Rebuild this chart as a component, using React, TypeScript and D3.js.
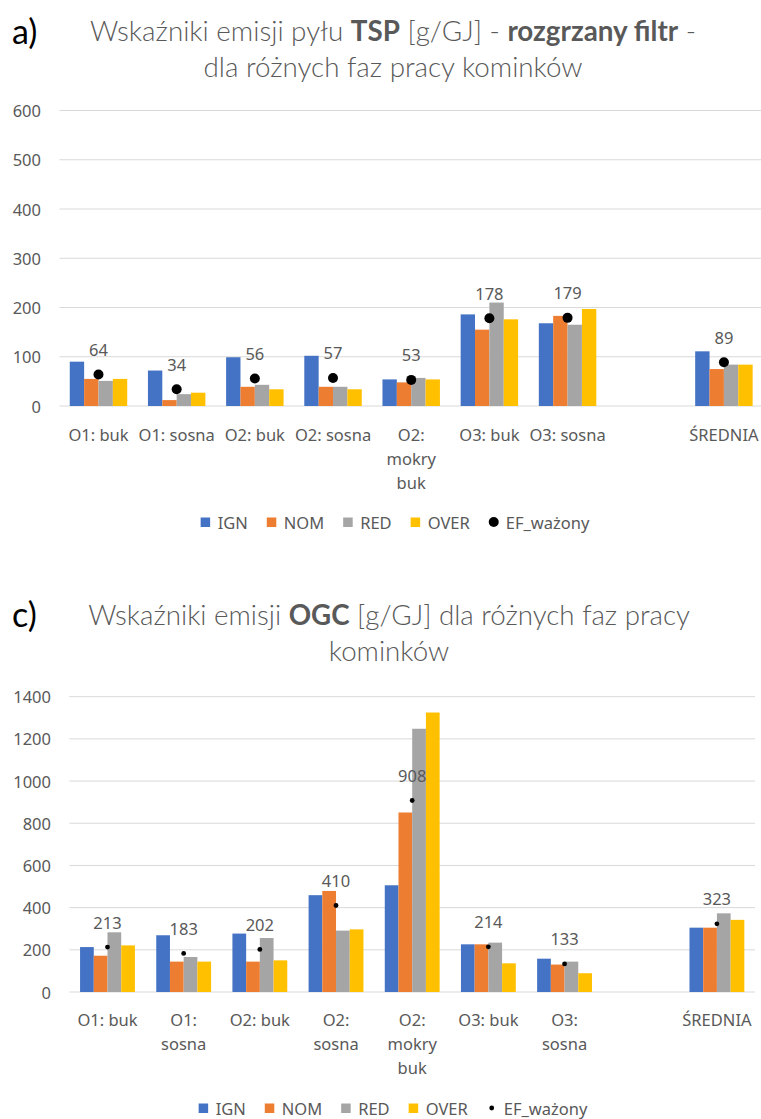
import * as d3 from "d3";

const series = ["IGN", "NOM", "RED", "OVER"];
const colors = ["#4472C4", "#ED7D31", "#A5A5A5", "#FFC000"];
const efName = "EF_ważony";

// chart a) TSP
const titleA1 = [["Wskaźniki emisji pyłu ", false], ["TSP", true], [" [g/GJ] - ", false], ["rozgrzany filtr", true], [" -", false]] as [string, boolean][];
const titleA2 = [["dla różnych faz pracy kominków", false]] as [string, boolean][];
const labelsA = [["O1: buk"], ["O1: sosna"], ["O2: buk"], ["O2: sosna"], ["O2:", "mokry", "buk"], ["O3: buk"], ["O3: sosna"], [""], ["ŚREDNIA"]];
const ignA = [90, 72, 99, 102, 54, 186, 168, null, 111];
const nomA = [55, 12, 39, 39, 48, 155, 183, null, 75];
const redA = [51, 24, 43, 39, 57, 210, 165, null, 84];
const overA = [55, 27, 34, 34, 54, 176, 197, null, 84];
const efA = [64, 34, 56, 57, 53, 178, 179, null, 89];
const ticksA = [0, 100, 200, 300, 400, 500, 600];

// chart c) OGC
const titleC1 = [["Wskaźniki emisji ", false], ["OGC", true], [" [g/GJ] dla różnych faz pracy", false]] as [string, boolean][];
const titleC2 = [["kominków", false]] as [string, boolean][];
const labelsC = [["O1: buk"], ["O1:", "sosna"], ["O2: buk"], ["O2:", "sosna"], ["O2:", "mokry", "buk"], ["O3: buk"], ["O3:", "sosna"], [""], ["ŚREDNIA"]];
const ignC = [213, 269, 277, 459, 506, 226, 158, null, 305];
const nomC = [172, 144, 144, 479, 851, 226, 130, null, 305];
const redC = [283, 166, 256, 291, 1248, 234, 144, null, 373];
const overC = [221, 144, 150, 297, 1325, 136, 89, null, 342];
const efC = [213, 183, 202, 410, 908, 214, 133, null, 323];
const ticksC = [0, 200, 400, 600, 800, 1000, 1200, 1400];

const FONT = "'Noto Sans', 'Open Sans', sans-serif";
const TITLE_FONT = "Lato";
const GREY = "#595959";
const FS = 16.5;

let ctx: CanvasRenderingContext2D | null = null;
function measure(s: string, font: string) {
  if (!ctx) ctx = document.createElement("canvas").getContext("2d");
  ctx!.font = font;
  return ctx!.measureText(s).width;
}
const textWidth = (s: string) => measure(s, `${FS}px 'Noto Sans'`);
const segWidth = (segs: [string, boolean][], size: number) =>
  d3.sum(segs, ([t, b]) => measure(t, `${b ? 700 : 300} ${size}px ${TITLE_FONT}`));

function Title({ lines, target, cx, ys }: { lines: [string, boolean][][]; target: number; cx: number; ys: number[] }) {
  const size = 30 * target / segWidth(lines[0], 30);
  return (
    <g fontFamily={TITLE_FONT} fontSize={size} fill={GREY} textAnchor="middle">
      {lines.map((segs, k) => (
        <text key={k} x={cx} y={ys[k]} dominantBaseline="central" fontWeight={300}>
          {segs.map(([t, b], j) => <tspan key={j} fontWeight={b ? 700 : 300}>{t}</tspan>)}
        </text>
      ))}
    </g>
  );
}

type Cfg = {
  labels: string[][];
  values: (number | null)[][];
  ef: (number | null)[];
  ticks: number[];
  y0: number; y1: number;
  xL: number; xR: number;
  yLabelRight: number;
  dotR: number;
  barFrac: number;
  xLabelY: number;
  legendY: number;
  legendCx: number;
};

function BarChart({ c }: { c: Cfg }) {
  const idx = c.labels.map((_, i) => i);
  const x0 = d3.scaleBand<number>().domain(idx).range([c.xL, c.xR]);
  const step = x0.step();
  const gw = step * c.barFrac;
  const x1 = d3.scaleBand<number>().domain(series.map((_, i) => i)).range([(step - gw) / 2, (step + gw) / 2]);
  const y = d3.scaleLinear().domain([0, d3.max(c.ticks)!]).range([c.y0, c.y1]);
  const cx = (i: number) => x0(i)! + step / 2;

  // legend layout
  const items = [...series, efName];
  const widths = items.map(textWidth);
  const total = d3.sum(widths) + items.length * 17 + (items.length - 1) * 19;
  let lx = c.legendCx - total / 2;
  const legend = items.map((name, i) => {
    const pos = lx;
    lx += 17 + widths[i] + 19;
    return { name, i, pos };
  });

  return (
    <g fontFamily={FONT} fontSize={FS} fill={GREY}>
      {c.ticks.map(t => (
        <g key={t}>
          <line x1={c.xL} x2={Math.min(c.xR, 761)} y1={y(t)} y2={y(t)} stroke="#d9d9d9" strokeWidth={1} />
          <text x={c.yLabelRight} y={y(t)} textAnchor="end" dominantBaseline="central">{t}</text>
        </g>
      ))}
      {c.values.map((vals, s) => (
        <g key={s} fill={colors[s]}>
          {vals.map((v, i) => v == null ? null : (
            <rect key={i} x={x0(i)! + x1(s)!} width={x1.bandwidth()} y={y(v)} height={y(0) - y(v)} />
          ))}
        </g>
      ))}
      {c.ef.map((v, i) => v == null ? null : (
        <g key={i}>
          <circle cx={cx(i)} cy={y(v)} r={c.dotR} fill="#000" />
          <text x={cx(i)} y={y(v) - 25} textAnchor="middle" dominantBaseline="central">{v}</text>
        </g>
      ))}
      {c.labels.map((lines, i) => (
        <text key={i} x={cx(i)} y={c.xLabelY} textAnchor="middle" dominantBaseline="central">
          {lines.map((l, k) => (
            <tspan key={k} x={cx(i)} dy={k === 0 ? 0 : 24}>{l}</tspan>
          ))}
        </text>
      ))}
      {legend.map(({ name, i, pos }) => (
        <g key={name}>
          {i < series.length
            ? <rect x={pos} y={c.legendY - 4.5} width={9.5} height={9.5} fill={colors[i]} />
            : <circle cx={pos + 5} cy={c.legendY} r={c.dotR} fill="#000" />}
          <text x={pos + 17} y={c.legendY} dominantBaseline="central">{name}</text>
        </g>
      ))}
    </g>
  );
}

const cfgA: Cfg = {
  labels: labelsA, values: [ignA, nomA, redA, overA], ef: efA, ticks: ticksA,
  y0: 406, y1: 110.5, xL: 59.4, xR: 763, yLabelRight: 41, dotR: 5, barFrac: 0.735,
  xLabelY: 434, legendY: 522, legendCx: 395,
};
const cfgC: Cfg = {
  labels: labelsC, values: [ignC, nomC, redC, overC], ef: efC, ticks: ticksC,
  y0: 992, y1: 696.7, xL: 69.4, xR: 755, yLabelRight: 51, dotR: 2.4, barFrac: 0.72,
  xLabelY: 1019, legendY: 1108, legendCx: 393,
};

export default function App() {
  return (
    <svg width={761} height={1119} style={{ position: "absolute", left: 0, top: 0, background: "#fff" }}>
      <rect width={761} height={1119} fill="#fff" />
      <text x={12} y={30} fontFamily="Lato" fontSize={34} dominantBaseline="central" fill="#000">a)</text>
      <Title lines={[titleA1, titleA2]} target={607} cx={393} ys={[30, 66]} />
      <BarChart c={cfgA} />
      <text x={12} y={613} fontFamily="Lato" fontSize={34} dominantBaseline="central" fill="#000">c)</text>
      <Title lines={[titleC1, titleC2]} target={602} cx={389} ys={[614, 650]} />
      <BarChart c={cfgC} />
    </svg>
  );
}
